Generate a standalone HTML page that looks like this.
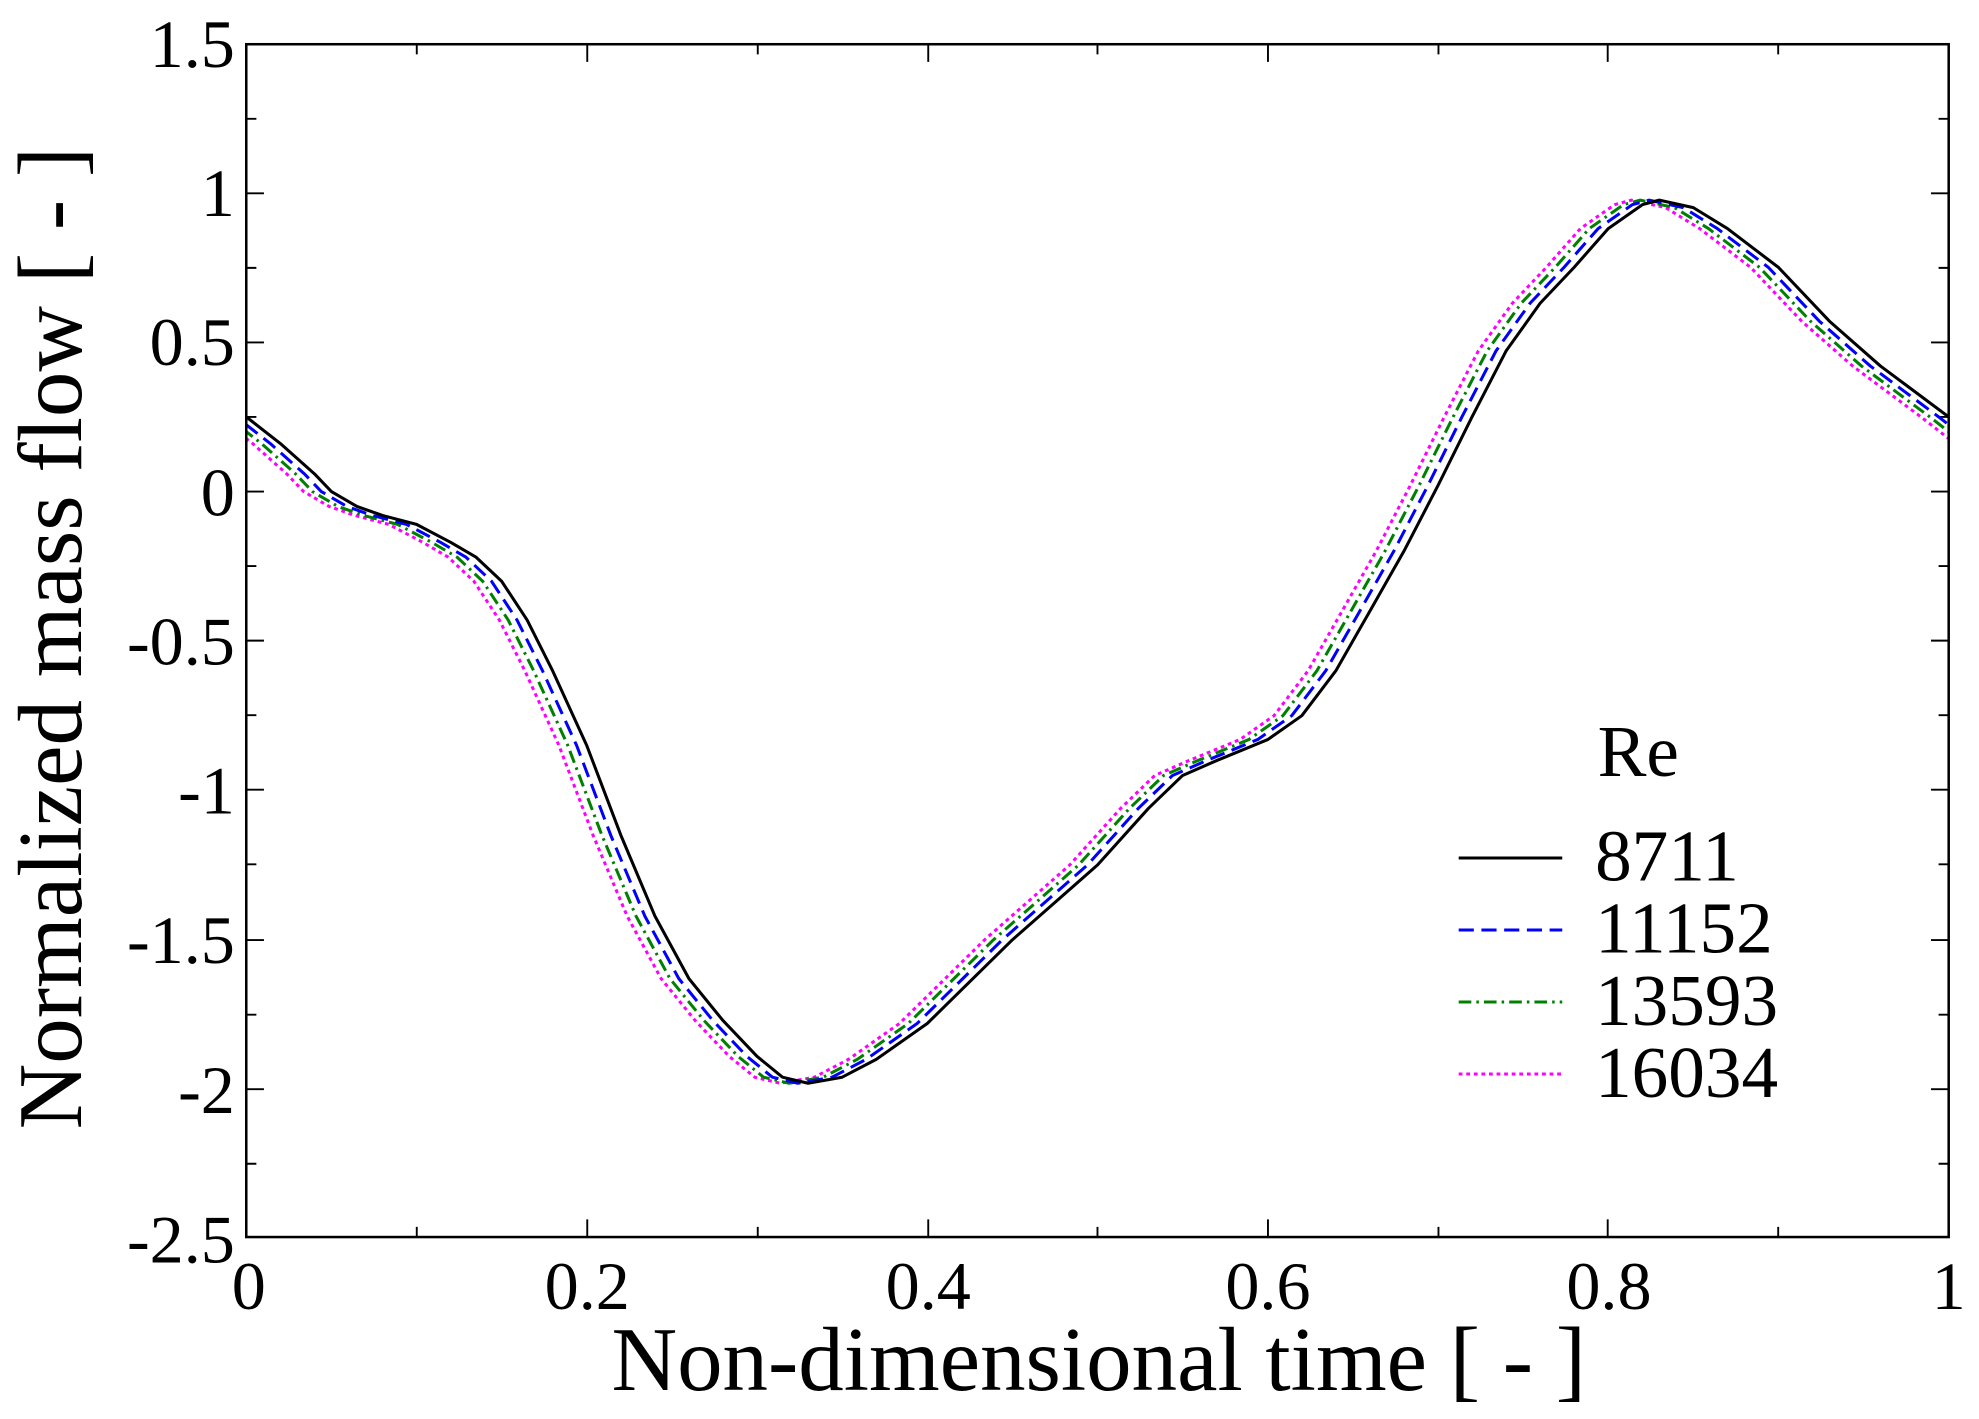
<!DOCTYPE html>
<html><head><meta charset="utf-8"><style>html,body{margin:0;padding:0;background:#fff}svg{display:block}</style></head>
<body>
<svg width="1979" height="1419" viewBox="0 0 1567 1123" preserveAspectRatio="none" xmlns="http://www.w3.org/2000/svg" font-family="Liberation Serif, serif">
<defs>
<clipPath id="c"><rect x="195" y="35" width="1348" height="944"/></clipPath>
<path id="p" d="M170,293 L195,329.9 L222,351 L249,375 L262.4,389 L282.6,400.8 L302.8,407.9 L329.8,415 L356.8,429.2 L377,441 L397.2,460 L417.4,490.7 L437.6,530.9 L464.6,590 L491.6,661 L518.5,724.8 L545.5,774.5 L572.4,807.6 L599.4,836 L619.6,852.5 L639.8,857.3 L666.8,852.5 L693.8,838.4 L734.2,810 L801.6,743.8 L869,684.6 L909.4,639.7 L936.4,613.7 L963.4,601.9 L1003.8,585.3 L1030.8,566.4 L1057.7,530.9 L1084.7,483.6 L1111.6,436.3 L1138.6,384.3 L1165.6,329.9 L1192.5,277.8 L1219.5,240 L1246.4,211.6 L1273.4,180.9 L1300.4,162 L1313.8,158.4 L1340.8,164.3 L1367.8,180.9 L1408.2,211.6 L1448.6,254.2 L1489,289.7 L1543,329.9 L1570,351 L1597,375" fill="none" stroke-width="2.4" stroke-linejoin="round"/>
</defs>
<rect x="0" y="0" width="1567" height="1123" fill="#fff"/>
<g stroke="#000" stroke-width="1.5">
<path d="M195,979v-14M1543,979v-14M195,35v14M1543,35v14
M330,979v-8M330,35v8M465,979v-14M465,35v14M600,979v-8M600,35v8M735,979v-14M735,35v14M869,979v-8M869,35v8
M1004,979v-14M1004,35v14M1139,979v-8M1139,35v8M1273,979v-14M1273,35v14M1408,979v-8M1408,35v8"/>
<path d="M195,94h8M1543,94h-8M195,153h14M1543,153h-14M195,212h8M1543,212h-8M195,271h14M1543,271h-14M195,330h8M1543,330h-8
M195,389h14M1543,389h-14M195,448h8M1543,448h-8M195,507h14M1543,507h-14M195,566h8M1543,566h-8M195,625h14M1543,625h-14
M195,684h8M1543,684h-8M195,744h14M1543,744h-14M195,803h8M1543,803h-8M195,862h14M1543,862h-14M195,921h8M1543,921h-8"/>
</g>
<g clip-path="url(#c)">
<use href="#p" stroke="#ff00ff" stroke-dasharray="3,3" transform="translate(-22,0)"/>
<use href="#p" stroke="#008000" stroke-dasharray="10,4,2,4" transform="translate(-15,0)"/>
<use href="#p" stroke="#0000ff" stroke-dasharray="12,6" transform="translate(-8,0)"/>
<use href="#p" stroke="#000"/>
</g>
<rect x="195" y="35" width="1348" height="944" fill="none" stroke="#000" stroke-width="2"/>
<g font-size="54" fill="#000" text-anchor="end">
<text x="186" y="53">1.5</text><text x="186" y="171">1</text><text x="186" y="289">0.5</text>
<text x="186" y="408">0</text><text x="186" y="526">-0.5</text><text x="186" y="644">-1</text>
<text x="186" y="762">-1.5</text><text x="186" y="881">-2</text><text x="186" y="999">-2.5</text>
</g>
<g font-size="54" fill="#000" text-anchor="middle">
<text x="197" y="1036">0</text><text x="465" y="1036">0.2</text><text x="735" y="1036">0.4</text>
<text x="1004" y="1036">0.6</text><text x="1274" y="1036">0.8</text><text x="1543" y="1036">1</text>
</g>
<text x="870" y="1100" font-size="72" text-anchor="middle">Non-dimensional time [ - ]</text>
<text transform="translate(64,505) rotate(-90)" font-size="72" text-anchor="middle">Normalized mass flow [ - ]</text>
<g font-size="58" fill="#000">
<text x="1265" y="614">Re</text>
<text x="1263" y="697">8711</text><text x="1263" y="754">11152</text>
<text x="1263" y="811">13593</text><text x="1263" y="868">16034</text>
</g>
<g stroke-width="2.4">
<line x1="1155" y1="679" x2="1237" y2="679" stroke="#000"/>
<line x1="1155" y1="736" x2="1237" y2="736" stroke="#0000ff" stroke-dasharray="12,6"/>
<line x1="1155" y1="793" x2="1237" y2="793" stroke="#008000" stroke-dasharray="10,4,2,4"/>
<line x1="1155" y1="850" x2="1237" y2="850" stroke="#ff00ff" stroke-dasharray="3,3"/>
</g>
</svg>
</body></html>
